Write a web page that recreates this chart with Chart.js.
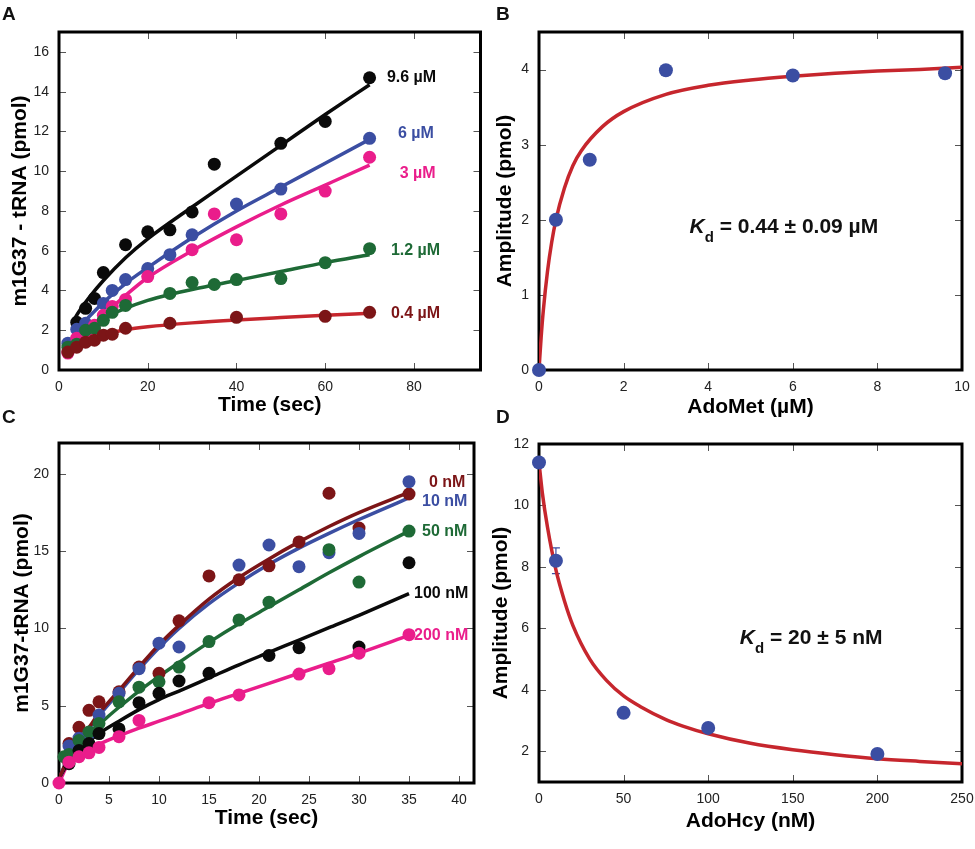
<!DOCTYPE html>
<html>
<head>
<meta charset="utf-8">
<script src="https://cdn.jsdelivr.net/npm/chart.js@4.4.1/dist/chart.umd.min.js"></script>
<style>
  html, body { margin: 0; padding: 0; background: #fff; }
  #fig { position: relative; width: 975px; height: 849px; font-family: "Liberation Sans", Arial, Helvetica, sans-serif; }
  #fig canvas { position: absolute; }
  .tag { position: absolute; font-weight: bold; font-size: 19px; line-height: 19px; color: #111; }
</style>
</head>
<body>
<div id="fig">
  <canvas id="chartA" width="487" height="420" style="left:0;top:0"></canvas>
  <canvas id="chartB" width="488" height="420" style="left:487px;top:0"></canvas>
  <canvas id="chartC" width="487" height="429" style="left:0;top:420px"></canvas>
  <canvas id="chartD" width="488" height="429" style="left:487px;top:420px"></canvas>
  <div class="tag" style="left:2px;top:4px">A</div>
  <div class="tag" style="left:496px;top:4px">B</div>
  <div class="tag" style="left:2px;top:407px">C</div>
  <div class="tag" style="left:496px;top:407px">D</div>
</div>
<script>
// ---- Panel A: m1G37-tRNA vs time at several AdoMet concentrations ----
const aTime96 = [4, 6, 8, 10, 15, 20, 25, 30, 35, 50, 60, 70];
const aAmt96  = [2.4, 3.1, 3.6, 4.9, 6.3, 6.95, 7.05, 7.95, 10.35, 11.4, 12.5, 14.7];
const aTime6  = [2, 4, 6, 10, 12, 15, 20, 25, 30, 40, 50, 70];
const aAmt6   = [1.35, 2.05, 2.35, 3.35, 4.0, 4.55, 5.1, 5.8, 6.8, 8.35, 9.1, 11.65];
const aTime3  = [2, 4, 6, 8, 10, 12, 15, 20, 30, 35, 40, 50, 60, 70];
const aAmt3   = [0.85, 1.6, 1.7, 2.25, 2.75, 3.2, 3.55, 4.7, 6.05, 7.85, 6.55, 7.85, 9.0, 10.7];
const aTime12 = [2, 4, 6, 8, 10, 12, 15, 25, 30, 35, 40, 50, 60, 70];
const aAmt12  = [1.15, 1.3, 2.0, 2.1, 2.5, 2.9, 3.25, 3.85, 4.4, 4.3, 4.55, 4.6, 5.4, 6.1];
const aTime04 = [2, 4, 6, 8, 10, 12, 15, 25, 40, 60, 70];
const aAmt04  = [0.9, 1.15, 1.4, 1.5, 1.75, 1.8, 2.1, 2.35, 2.65, 2.7, 2.9];

// fitted curves
const aFitT96 = [3, 5, 7, 10, 15, 20, 30, 40, 50, 60, 70];
const aFit96  = [2.4, 3.1, 3.7, 4.5, 5.65, 6.6, 8.2, 9.75, 11.3, 12.85, 14.35];
const aFitT6  = [4, 6, 8, 10, 15, 20, 30, 40, 50, 60, 70];
const aFit6   = [2.0, 2.5, 2.95, 3.4, 4.35, 5.15, 6.65, 8.0, 9.2, 10.4, 11.6];
const aFitT3  = [4, 6, 8, 10, 15, 20, 30, 40, 50, 60, 70];
const aFit3   = [1.6, 1.95, 2.35, 2.75, 3.75, 4.65, 6.0, 7.2, 8.3, 9.3, 10.3];
const aFitT12 = [2, 5, 10, 15, 20, 25, 30, 40, 50, 60, 70];
const aFit12  = [1.2, 1.85, 2.6, 3.1, 3.5, 3.8, 4.05, 4.5, 4.95, 5.4, 5.8];
const aFitT04 = [4, 6, 10, 15, 20, 30, 40, 50, 60, 70];
const aFit04  = [1.3, 1.5, 1.78, 2.02, 2.17, 2.37, 2.52, 2.64, 2.75, 2.85];

// ---- Panel B: amplitude vs AdoMet ----
const bConc = [0, 0.4, 1.2, 3, 6, 9.6];
const bAmp  = [0, 2.0, 2.8, 3.99, 3.92, 3.95];
const bFitConc = [0, 0.05, 0.1, 0.2, 0.3, 0.4, 0.6, 0.8, 1, 1.5, 2, 3, 4, 5, 6, 7, 8, 9, 10];
const bFitAmp  = [0, 0.43, 0.78, 1.31, 1.70, 2.0, 2.42, 2.72, 2.92, 3.24, 3.44, 3.67, 3.79, 3.86, 3.91, 3.95, 3.98, 4.0, 4.03];

// ---- Panel C: m1G37-tRNA vs time at several AdoHcy concentrations ----
const cTime0   = [1, 2, 3, 4, 6, 8, 10, 12, 15, 18, 21, 24, 27, 30, 35];
const cAmt0    = [2.55, 3.6, 4.7, 5.25, 5.9, 7.5, 7.1, 10.5, 13.4, 13.15, 14.05, 15.6, 18.75, 16.5, 18.7];
const cTime10  = [1, 2, 3, 4, 6, 8, 10, 12, 18, 21, 24, 27, 30, 35];
const cAmt10   = [2.4, 2.9, 3.2, 4.4, 5.8, 7.4, 9.05, 8.8, 14.1, 15.4, 14.0, 14.9, 16.15, 19.5];
const cTime50  = [0.5, 1, 2, 3, 4, 6, 8, 10, 12, 15, 18, 21, 27, 30, 35];
const cAmt50   = [1.7, 1.85, 2.75, 3.3, 3.85, 5.25, 6.2, 6.55, 7.5, 9.15, 10.55, 11.7, 15.1, 13.0, 16.3];
const cTime100 = [1, 2, 3, 4, 6, 8, 10, 12, 15, 21, 24, 30, 35];
const cAmt100  = [1.25, 2.1, 2.55, 3.2, 3.5, 5.2, 5.8, 6.6, 7.1, 8.25, 8.75, 8.8, 14.25];
const cTime200 = [0, 1, 2, 3, 4, 6, 8, 15, 18, 24, 27, 30, 35];
const cAmt200  = [0, 1.35, 1.7, 1.95, 2.3, 3.0, 4.05, 5.2, 5.7, 7.05, 7.4, 8.4, 9.6];

const cFitTime = [0, 1, 2, 3, 4, 6, 8, 10, 12, 15, 18, 21, 24, 27, 30, 35];
const cFit0    = [0.3, 1.7, 2.7, 3.6, 4.5, 6.0, 7.5, 8.95, 10.2, 11.9, 13.3, 14.5, 15.6, 16.6, 17.5, 18.8];
const cFit10   = [0.3, 1.7, 2.6, 3.5, 4.35, 5.85, 7.35, 8.75, 10.0, 11.6, 12.95, 14.15, 15.2, 16.15, 17.05, 18.45];
const cFit50   = [1.6, 2.15, 2.7, 3.25, 3.8, 4.9, 5.95, 6.9, 7.8, 9.1, 10.3, 11.4, 12.5, 13.6, 14.65, 16.3];
const cFit100  = [0.3, 1.4, 2.1, 2.7, 3.2, 4.0, 4.75, 5.4, 5.95, 6.8, 7.65, 8.45, 9.25, 10.05, 10.85, 12.25];
const cFit200  = [0, 1.35, 1.8, 2.15, 2.5, 3.05, 3.55, 4.0, 4.45, 5.15, 5.8, 6.45, 7.1, 7.75, 8.4, 9.55];

// ---- Panel D: amplitude vs AdoHcy ----
const dConc = [0, 10, 50, 100, 200];
const dAmp  = [11.4, 8.2, 3.25, 2.76, 1.91];
const dErr  = [0, 0.42, 0, 0, 0];
const dFitConc = [0, 2, 5, 10, 15, 20, 30, 40, 50, 60, 75, 85, 100, 125, 150, 175, 200, 225, 250];
const dFitAmp  = [11.4, 10.4, 9.3, 7.9, 6.9, 6.1, 5.0, 4.3, 3.8, 3.45, 3.03, 2.82, 2.57, 2.26, 2.05, 1.89, 1.76, 1.67, 1.59];

const FONT = '"Liberation Sans", Arial, Helvetica, sans-serif';
const BLACK = '#0a0a0a', BLUE = '#3b4ea2', PINK = '#ea1d8b', GREEN = '#1e6a36', DRED = '#7c1517', RED = '#c6262d';

Chart.defaults.font.family = FONT;
Chart.defaults.color = '#222';
Chart.defaults.animation = false;

const pts = (xs, ys) => xs.map((x, i) => ({ x: x, y: ys[i] }));

function dots(xs, ys, color, r) {
  return { data: pts(xs, ys), showLine: false, pointRadius: r, pointBackgroundColor: color,
           pointBorderWidth: 0, order: 1, clip: false };
}
function fit(xs, ys, color) {
  return { data: pts(xs, ys), showLine: true, pointRadius: 0, borderColor: color, borderWidth: 3.5,
           cubicInterpolationMode: 'monotone', order: 2 };
}

function drawKd(ctx, x0, yMid, rest) {
  const base = yMid + 7.5;
  ctx.fillStyle = '#111';
  ctx.textAlign = 'left';
  ctx.textBaseline = 'alphabetic';
  ctx.font = 'italic bold 21px ' + FONT;
  ctx.fillText('K', x0, base);
  let x1 = x0 + ctx.measureText('K').width;
  ctx.font = 'bold 15px ' + FONT;
  ctx.fillText('d', x1, base + 9);
  x1 += ctx.measureText('d').width;
  ctx.font = 'bold 21px ' + FONT;
  ctx.fillText(rest, x1, base);
}

// frame, inward ticks, error bars and in-plot labels
function makeDecor(cfg) {
  return {
    id: 'decor',
    beforeDatasetsDraw(chart) {
      const { ctx, chartArea: a, scales: { x, y } } = chart;
      ctx.save();
      ctx.strokeStyle = '#555';
      ctx.lineWidth = 1;
      ctx.beginPath();
      x.ticks.forEach(t => {
        const px = Math.round(x.getPixelForValue(t.value)) + 0.5;
        ctx.moveTo(px, a.bottom); ctx.lineTo(px, a.bottom - 7);
        ctx.moveTo(px, a.top); ctx.lineTo(px, a.top + 7);
      });
      y.ticks.forEach(t => {
        const py = Math.round(y.getPixelForValue(t.value)) + 0.5;
        ctx.moveTo(a.left, py); ctx.lineTo(a.left + 7, py);
        ctx.moveTo(a.right, py); ctx.lineTo(a.right - 7, py);
      });
      ctx.stroke();
      ctx.lineWidth = 3;
      ctx.strokeStyle = '#000';
      ctx.strokeRect(a.left, a.top, a.right - a.left, a.bottom - a.top);
      if (cfg.errors) {
        const e = cfg.errors;
        ctx.strokeStyle = e.color;
        ctx.lineWidth = 1.2;
        e.xs.forEach((xv, i) => {
          if (!e.err[i]) return;
          const px = x.getPixelForValue(xv);
          const top = y.getPixelForValue(e.ys[i] + e.err[i]);
          const bot = y.getPixelForValue(e.ys[i] - e.err[i]);
          ctx.beginPath();
          ctx.moveTo(px, top); ctx.lineTo(px, bot);
          ctx.moveTo(px - 4, top); ctx.lineTo(px + 4, top);
          ctx.moveTo(px - 4, bot); ctx.lineTo(px + 4, bot);
          ctx.stroke();
        });
      }
      ctx.restore();
    },
    afterDatasetsDraw(chart) {
      const { ctx, scales: { x, y } } = chart;
      ctx.save();
      (cfg.labels || []).forEach(l => {
        ctx.font = 'bold 16px ' + FONT;
        ctx.fillStyle = l.color;
        ctx.textAlign = 'left';
        ctx.textBaseline = 'middle';
        ctx.fillText(l.text, x.getPixelForValue(l.x), y.getPixelForValue(l.y));
      });
      if (cfg.kd) drawKd(ctx, x.getPixelForValue(cfg.kd.x), y.getPixelForValue(cfg.kd.y), cfg.kd.text);
      ctx.restore();
    }
  };
}

function makePanel(id, cfg) {
  const axis = (ax, isX) => ({
    type: 'linear', min: ax.min, max: ax.max,
    ticks: { stepSize: ax.step, includeBounds: false, padding: isX ? 9 : 10, font: { size: 14 }, color: '#222' },
    grid: { display: false, drawTicks: false },
    border: { display: false },
    title: { display: true, text: ax.title, color: '#000', font: { size: 21, weight: 'bold' },
             padding: isX ? { top: 0, bottom: ax.tpad } : { top: ax.tpad, bottom: 0 } },
    afterFit: s => {
      // fixed axis box so the plot frame lands where the figure has it
      if (isX) { s.height = ax.size; s.paddingLeft = 0; s.paddingRight = 0; }
      else { s.width = ax.size; s.paddingTop = 0; s.paddingBottom = 0; }
    }
  });
  return new Chart(document.getElementById(id), {
    type: 'scatter',
    data: { datasets: cfg.datasets },
    options: {
      responsive: false, devicePixelRatio: 1, events: [],
      layout: { padding: cfg.pad },
      plugins: { legend: { display: false }, tooltip: { enabled: false } },
      scales: { x: axis(cfg.x, true), y: axis(cfg.y, false) }
    },
    plugins: [makeDecor(cfg)]
  });
}

makePanel('chartA', {
  pad: { left: 0, top: 32, right: 6, bottom: 0 },
  x: { min: 0, max: 95, step: 20, title: 'Time (sec)', size: 50, tpad: 2.4 },
  y: { min: 0, max: 17, step: 2, title: 'm1G37 - tRNA (pmol)', size: 59, tpad: 7.4 },
  datasets: [
    fit(aFitT96, aFit96, BLACK), fit(aFitT6, aFit6, BLUE), fit(aFitT3, aFit3, PINK),
    fit(aFitT12, aFit12, GREEN), fit(aFitT04, aFit04, RED),
    dots(aTime04, aAmt04, DRED, 6.5), dots(aTime12, aAmt12, GREEN, 6.5), dots(aTime3, aAmt3, PINK, 6.5),
    dots(aTime6, aAmt6, BLUE, 6.5), dots(aTime96, aAmt96, BLACK, 6.5)
  ],
  labels: [
    { text: '9.6 \u00b5M', x: 73.9, y: 14.72, color: BLACK },
    { text: '6 \u00b5M', x: 76.4, y: 11.9, color: BLUE },
    { text: '3 \u00b5M', x: 76.8, y: 9.9, color: PINK },
    { text: '1.2 \u00b5M', x: 74.8, y: 6.03, color: GREEN },
    { text: '0.4 \u00b5M', x: 74.8, y: 2.86, color: DRED }
  ]
});

makePanel('chartB', {
  pad: { left: 0, top: 32, right: 13, bottom: 0 },
  x: { min: 0, max: 10, step: 2, title: 'AdoMet (\u00b5M)', size: 50, tpad: 0.4 },
  y: { min: 0, max: 4.5, step: 1, title: 'Amplitude (pmol)', size: 52, tpad: 5.4 },
  datasets: [fit(bFitConc, bFitAmp, RED), dots(bConc, bAmp, BLUE, 7)],
  kd: { x: 3.56, y: 1.92, text: ' = 0.44 \u00b1 0.09 \u00b5M' }
});

makePanel('chartC', {
  pad: { left: 0, top: 23, right: 13, bottom: 0 },
  x: { min: 0, max: 41.5, step: 5, title: 'Time (sec)', size: 66, tpad: 18.4 },
  y: { min: 0, max: 22, step: 5, title: 'm1G37-tRNA (pmol)', size: 59, tpad: 9.4 },
  datasets: [
    fit(cFitTime, cFit0, DRED), fit(cFitTime, cFit10, BLUE), fit(cFitTime, cFit50, GREEN),
    fit(cFitTime, cFit100, BLACK), fit(cFitTime, cFit200, PINK),
    dots(cTime200, cAmt200, PINK, 6.5), dots(cTime100, cAmt100, BLACK, 6.5), dots(cTime50, cAmt50, GREEN, 6.5),
    dots(cTime10, cAmt10, BLUE, 6.5), dots(cTime0, cAmt0, DRED, 6.5)
  ],
  labels: [
    { text: '0 nM', x: 37, y: 19.42, color: DRED },
    { text: '10 nM', x: 36.3, y: 18.19, color: BLUE },
    { text: '50 nM', x: 36.3, y: 16.25, color: GREEN },
    { text: '100 nM', x: 35.5, y: 12.23, color: BLACK },
    { text: '200 nM', x: 35.5, y: 9.57, color: PINK }
  ]
});

makePanel('chartD', {
  pad: { left: 0, top: 24, right: 13, bottom: 0 },
  x: { min: 0, max: 250, step: 50, title: 'AdoHcy (nM)', size: 67, tpad: 14.7 },
  y: { min: 1, max: 12, step: 2, title: 'Amplitude (pmol)', size: 52, tpad: 2.1 },
  datasets: [fit(dFitConc, dFitAmp, RED), dots(dConc, dAmp, BLUE, 7)],
  errors: { xs: dConc, ys: dAmp, err: dErr, color: BLUE },
  kd: { x: 118.7, y: 5.75, text: ' = 20 \u00b1 5 nM' }
});
</script>
</body>
</html>
